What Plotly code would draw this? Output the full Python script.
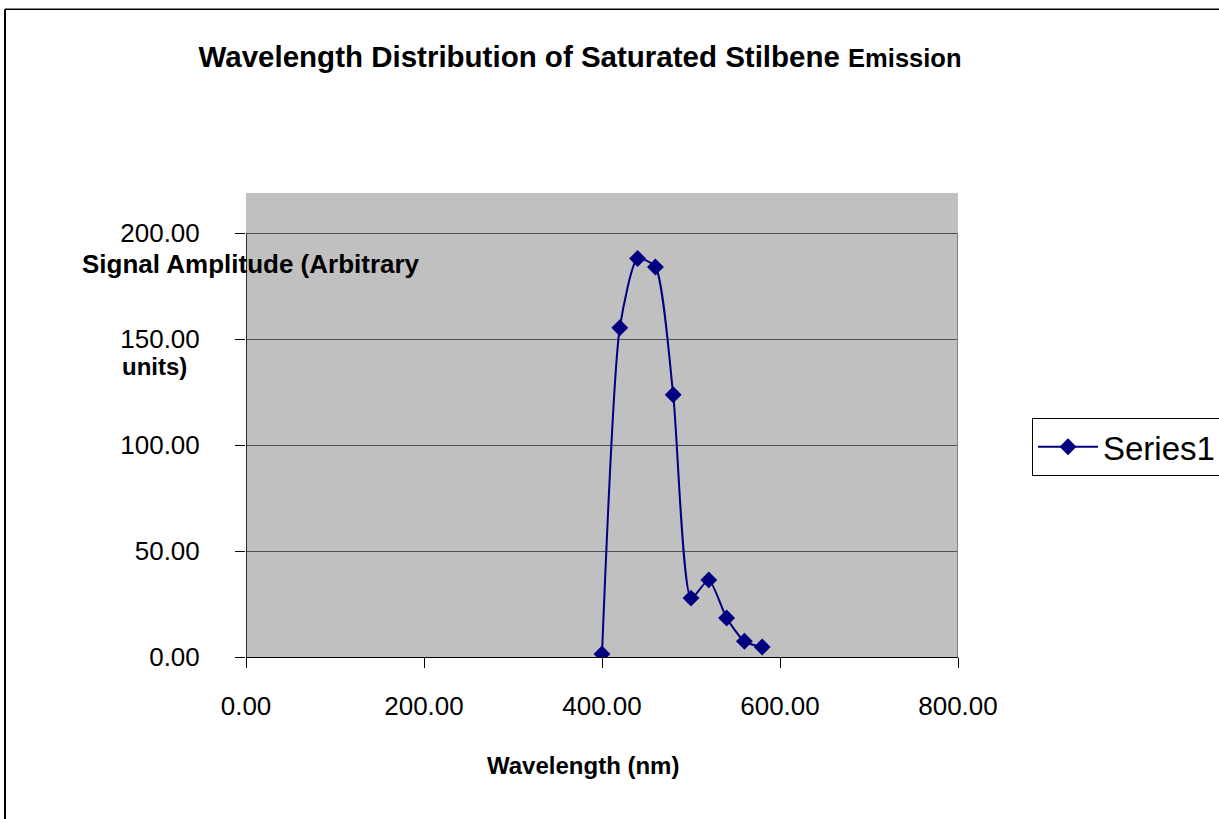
import plotly.graph_objects as go

# ---- data ----
wavelength = [400, 420, 440, 460, 480, 500, 520, 540, 560, 580]
amplitude = [1.4, 155.4, 188.1, 184.1, 123.8, 27.8, 36.4, 18.4, 7.4, 4.7]
series_name = "Series1"
x_ticks = [0, 200, 400, 600, 800]
x_tick_labels = ["0.00", "200.00", "400.00", "600.00", "800.00"]
y_ticks = [0, 50, 100, 150, 200]
y_tick_labels = ["0.00", "50.00", "100.00", "150.00", "200.00"]

# ---- layout geometry (pixels) ----
W, H = 1219, 819
L, R, T, B = 246, 958, 193, 657.5
PW, PH = R - L, B - T


def px(x):
    return (x - L) / PW


def py(y):
    return (B - y) / PH


FONT = "Arial, Liberation Sans, sans-serif"
NAVY = "#000080"

fig = go.Figure()
fig.add_trace(go.Scatter(
    x=wavelength, y=amplitude, name=series_name,
    mode="lines+markers",
    line=dict(color=NAVY, width=2, shape="spline", smoothing=0.6),
    marker=dict(symbol="diamond", size=13, color=NAVY),
))

fig.update_layout(
    width=W, height=H,
    margin=dict(l=L, r=W - R, t=T, b=H - B, autoexpand=False),
    paper_bgcolor="white",
    plot_bgcolor="#C0C0C0",
    font=dict(family=FONT, color="black"),
    showlegend=True,
    title=dict(
        text="<b>Wavelength Distribution of Saturated Stilbene "
             "<span style='font-size:25.5px'>Emission</span></b>",
        font=dict(size=29.5, family=FONT, color="black"),
        xref="container", yref="container",
        x=580 / W, xanchor="center",
        y=1 - 57 / H, yanchor="middle",
    ),
    legend=dict(
        x=px(1032), y=py(418), xanchor="left", yanchor="top",
        bordercolor="black", borderwidth=1, bgcolor="white",
        font=dict(size=33, family=FONT, color="black"),
        itemwidth=60,
    ),
    xaxis=dict(
        range=[0, 800], tickvals=x_ticks, ticktext=x_tick_labels,
        ticks="outside", ticklen=10, tickcolor="black", tickwidth=1,
        showline=True, linecolor="black", linewidth=1,
        showgrid=False, zeroline=False,
        tickfont=dict(size=26, family=FONT, color="black"),
        ticklabelstandoff=16,
    ),
    yaxis=dict(
        range=[0, 219], tickvals=y_ticks, ticktext=y_tick_labels,
        ticks="outside", ticklen=10, tickcolor="black", tickwidth=1,
        showline=False, showgrid=True, gridcolor="#505050", gridwidth=1,
        zeroline=False,
        tickfont=dict(size=26, family=FONT, color="black"),
        ticklabelstandoff=30,
    ),
)

# y axis line only up to 200, right plot-area border
fig.add_shape(type="line", xref="x", yref="y", x0=0, x1=0, y0=0, y1=200,
              line=dict(color="black", width=1.5))
fig.add_shape(type="line", xref="x", yref="y", x0=800, x1=800, y0=0, y1=200,
              line=dict(color="#808080", width=2))

# outer chart-area border (top and left visible)
fig.add_shape(type="line", xref="paper", yref="paper",
              x0=px(5), x1=px(1225), y0=py(9), y1=py(9),
              line=dict(color="black", width=1.5))
fig.add_shape(type="line", xref="paper", yref="paper",
              x0=px(5), x1=px(5), y0=py(9), y1=py(825),
              line=dict(color="black", width=2))

# axis titles
fig.add_annotation(text="<b>Signal Amplitude (Arbitrary</b>",
                   xref="paper", yref="paper", x=px(80), y=py(264),
                   xanchor="left", yanchor="middle", showarrow=False,
                   font=dict(size=26, family=FONT, color="black"))
fig.add_annotation(text="<b>units)</b>",
                   xref="paper", yref="paper", x=px(120), y=py(367),
                   xanchor="left", yanchor="middle", showarrow=False,
                   font=dict(size=24, family=FONT, color="black"))
fig.add_annotation(text="<b>Wavelength (nm)</b>",
                   xref="paper", yref="paper", x=px(583), y=py(766),
                   xanchor="center", yanchor="middle", showarrow=False,
                   font=dict(size=24, family=FONT, color="black"))

fig.write_html("out.html")
